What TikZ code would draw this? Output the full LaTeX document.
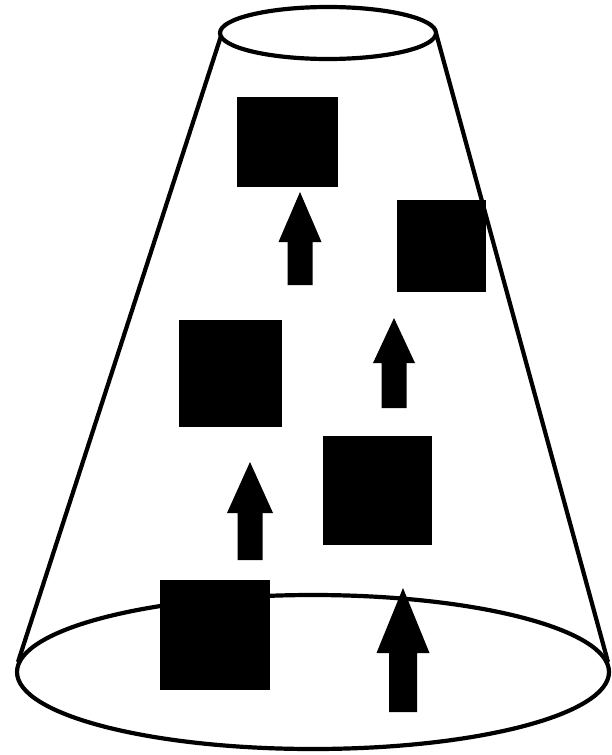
\documentclass[tikz,border=0pt]{standalone}
\begin{document}
\begin{tikzpicture}[x=1pt,y=-1pt,
  outline/.style={line width=4.2pt,draw=black},
  block/.style={fill=black},
  uparrow/.style={fill=black}]
\useasboundingbox (0,0) rectangle (612,755);
% cone
\draw[outline] (328,33) ellipse [x radius=108, y radius=26];
\draw[outline] (313,672) ellipse [x radius=296, y radius=77];
\draw[outline] (221,36) -- (18,662);
\draw[outline] (436,33) -- (608,662);
% squares
\fill[block] (237,97) rectangle (338,187);
\fill[block] (397,200) rectangle (486,292);
\fill[block] (179,320) rectangle (282,427);
\fill[block] (323,436) rectangle (432,545);
\fill[block] (160,580) rectangle (270,690);
% arrows
\newcommand{\uparr}[6]{% cx, tip, headbase, bottom, halfhead, halfshaft
  \fill[uparrow] (#1,#2) -- (#1+#5,#3) -- (#1+#6,#3) -- (#1+#6,#4) -- (#1-#6,#4) -- (#1-#6,#3) -- (#1-#5,#3) -- cycle;}
\uparr{300}{192}{242}{285}{21.5}{12.5}
\uparr{394}{318}{363}{408}{21}{12.5}
\uparr{250}{462}{513}{560}{23}{12.5}
\uparr{403}{588}{653}{712}{26.5}{14}
\end{tikzpicture}
\end{document}
